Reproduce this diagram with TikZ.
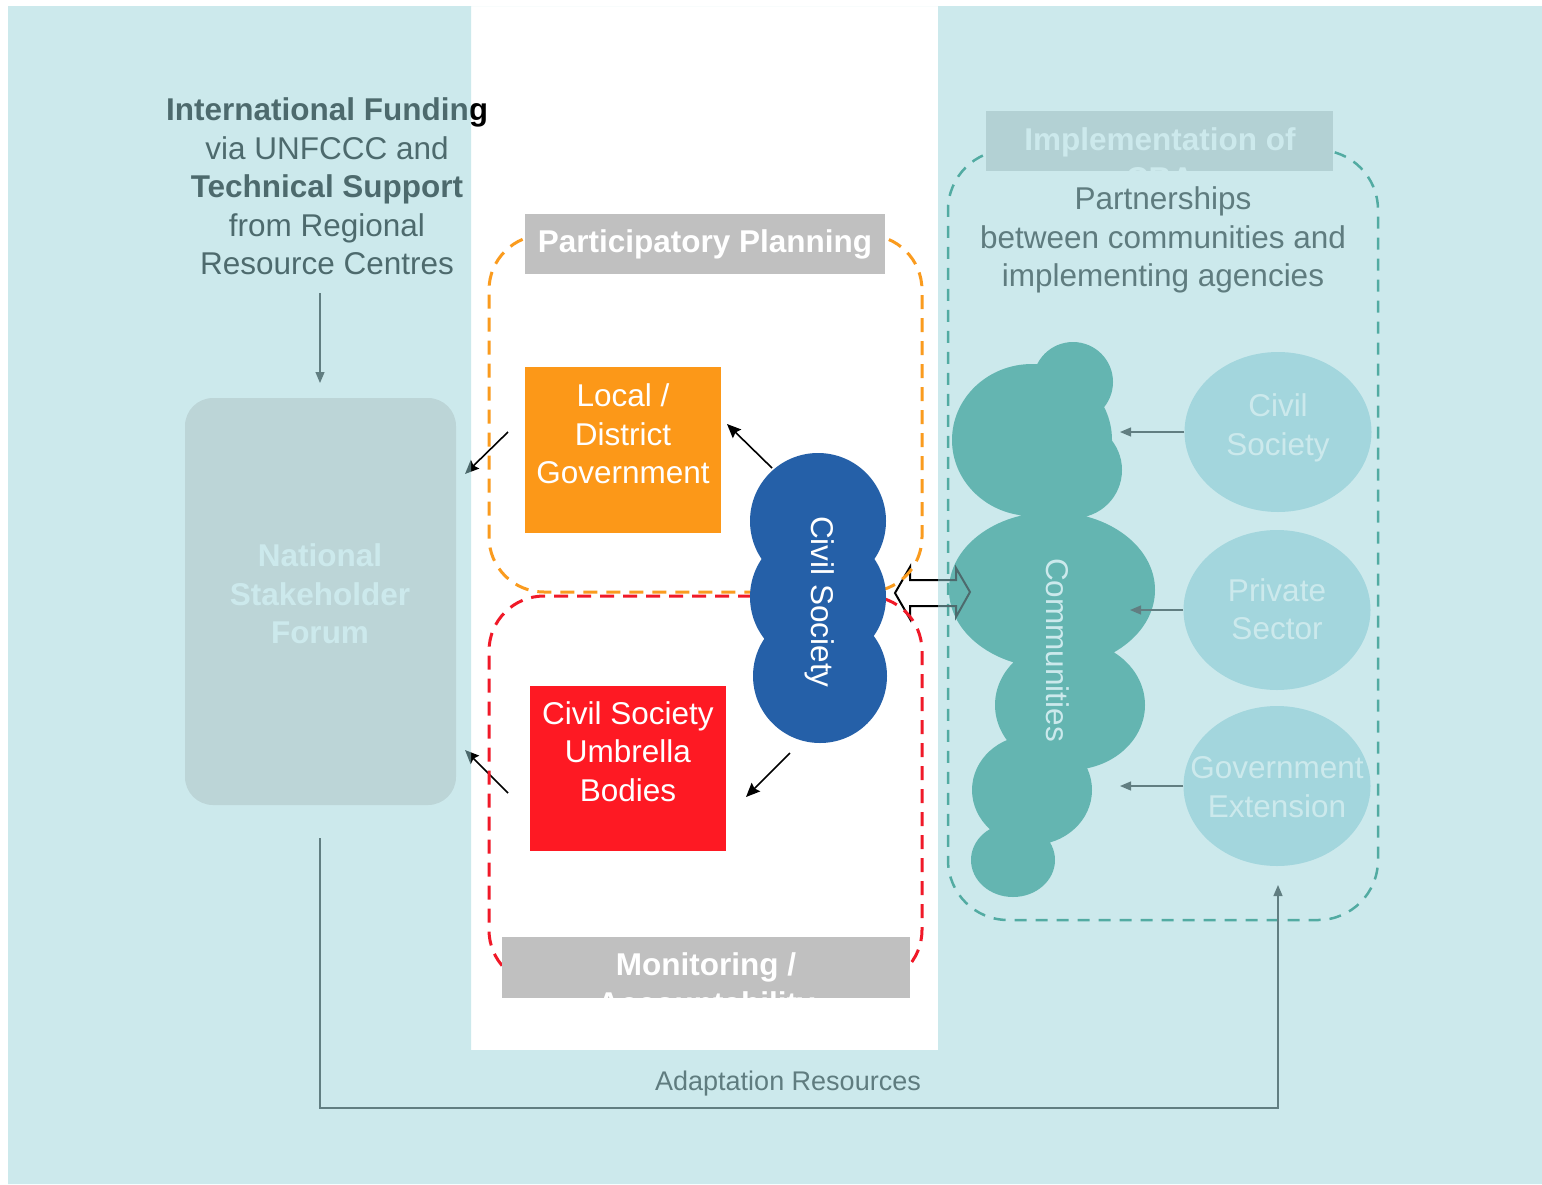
\documentclass[tikz,border=0pt]{standalone}
\usepackage{fontspec}
\setmainfont{Liberation Sans}
\usetikzlibrary{arrows.meta,shapes.geometric}
\definecolor{ovlc}{RGB}{155,213,219}
\definecolor{forumc}{RGB}{222,214,212}
\definecolor{ellc}{RGB}{172,216,224}
\definecolor{cloudc}{RGB}{45,150,135}
\definecolor{dashc}{RGB}{10,130,105}
\definecolor{implc}{RGB}{205,205,205}
\definecolor{pgray}{RGB}{192,192,192}
\definecolor{orangec}{RGB}{252,152,24}
\definecolor{redc}{RGB}{254,25,35}
\definecolor{bluec}{RGB}{37,96,168}
\definecolor{odashc}{RGB}{250,155,30}
\definecolor{rdashc}{RGB}{240,25,40}
\definecolor{fadec}{RGB}{40,40,40}
\definecolor{fadetxt}{RGB}{35,35,35}
\tikzset{
  big/.style={font=\fontsize{31.5}{38.5}\selectfont},
  bigb/.style={font=\fontsize{31.5}{38.5}\selectfont\bfseries},
  txt/.style={big, align=center, inner sep=0pt},
  txtb/.style={bigb, align=center, inner sep=0pt},
  fadearr/.style={draw=fadec, line width=1.2pt, -{Triangle[length=11pt,width=9pt]}},
  blkarr/.style={draw=black, line width=1.6pt, -{Stealth[length=14pt,width=12pt,inset=2pt]}},
  ellnode/.style={ellipse, fill=ellc, minimum width=187pt, minimum height=160pt, inner sep=0pt},
  elltxt/.style={txt, text=white},
  graybox/.style={fill=pgray, inner sep=0pt},
  colbox/.style={inner sep=0pt, big, align=center, text=white, minimum width=196pt},
  odashbox/.style={draw=odashc, line width=3pt, dash pattern=on 14pt off 9pt, rounded corners=55pt, minimum width=433pt, inner sep=0pt},
  rdashbox/.style={draw=rdashc, line width=3pt, dash pattern=on 14pt off 9pt, rounded corners=55pt, minimum width=433pt, inner sep=0pt},
}
\begin{document}
\begin{tikzpicture}[x=1pt,y=-1pt]
\useasboundingbox (0,0) rectangle (1542,1184);
\fill[white] (0,0) rectangle (1542,1184);

% ---------- left (faded) ----------
\node[txt, text=black] (intl) at (327,186.5) {\textbf{International Funding}\\via UNFCCC and\\\textbf{Technical Support}\\from Regional\\Resource Centres};
\node[fill=forumc, rounded corners=28pt, minimum width=271pt, minimum height=407pt, inner sep=0pt] (forum) at (320.5,601.5) {};
\node[txtb, text=white] (forumtxt) at (320,594) {National\\Stakeholder\\Forum};
\coordinate (ia) at (320,293);
\coordinate (ib) at (320,383);
\draw[fadearr] (ia) -- (ib);

% ---------- right (faded) ----------
\node[draw=dashc, line width=2.5pt, dash pattern=on 12pt off 9pt, rounded corners=60pt, minimum width=430pt, minimum height=770pt, inner sep=0pt] (partbox) at (1163,535) {};
\node[fill=implc, minimum width=347pt, minimum height=60pt, inner sep=0pt] (impl) at (1159.5,141) {};
\begin{scope}
  \clip (impl.north west) rectangle (impl.south east);
  \node[txtb, text=white] (impltxt) at (1160,158.5) {Implementation of\\CBA};
\end{scope}
\node[txt, text=fadetxt] (partner) at (1163,240) {Partnerships\\between communities and\\implementing agencies};

% communities cloud
\fill[cloudc]
  (1073,382) circle (40pt)
  (1032,440) ellipse [x radius=80pt, y radius=76pt]
  (1074,470) circle (48pt)
  (1052,590) ellipse [x radius=103pt, y radius=78pt]
  (1070,705) ellipse [x radius=75pt, y radius=65pt]
  (1032,790) ellipse [x radius=60pt, y radius=55pt]
  (1013,860) ellipse [x radius=42pt, y radius=37pt];
\node[txt, text=white, rotate=-90] (comm) at (1058,650) {Communities};

\node[ellnode] (ecs) at (1278,432) {};
\node[elltxt] (ecstxt) at (1278,428) {Civil\\Society};
\node[ellnode] (eps) at (1277,610) {};
\node[elltxt] (epstxt) at (1277,609) {Private\\Sector};
\node[ellnode] (ege) at (1277,786) {};
\node[elltxt] (egetxt) at (1277,787) {Government\\Extension};
\coordinate (c1) at (1120,432);
\coordinate (c2) at (1130,610);
\coordinate (c3) at (1120,786);
\draw[fadearr] (ecs.west) -- (c1);
\draw[fadearr] (eps.west) -- (c2);
\draw[fadearr] (ege.west) -- (c3);

% adaptation resources loop
\coordinate (ar0) at (320,838);
\coordinate (ar1) at (320,1108);
\coordinate (ar2) at (1278,1108);
\coordinate (ar3) at (1278,885);
\draw[fadearr] (ar0) -- (ar1) -- (ar2) -- (ar3);
\node[inner sep=0pt, text=fadetxt, font=\fontsize{27}{32}\selectfont] (adapt) at (788,1084) {Adaptation Resources};

% hollow double arrow between civil society and communities
\draw[black, line width=2pt, line join=miter]
  (895,593) -- (910,567) -- (910,580) -- (956,580) -- (956,568) -- (970,592)
  -- (956,617) -- (956,606) -- (910,606) -- (910,619) -- cycle;

% arrows from central boxes toward forum
\coordinate (b1s) at (508,432);
\coordinate (b1e) at (465,474);
\coordinate (b2s) at (508,793);
\coordinate (b2e) at (465,750);
\draw[blkarr] (b1s) -- (b1e);
\draw[blkarr] (b2s) -- (b2e);

% ---------- overlay ----------
\fill[ovlc, fill opacity=0.5, even odd rule] (8,6) rectangle (1542,1184) (471,6) rectangle (938,1050);

% ---------- central ----------
\node[odashbox, minimum height=357pt] (opbox) at (705.5,413.5) {};
\node[rdashbox, minimum height=389pt] (rdbox) at (705.5,790.5) {};

\node[graybox, minimum width=360pt, minimum height=60pt, bigb, text=white] (pplan) at (705,244) {Participatory Planning};

\node[graybox, minimum width=408pt, minimum height=61pt] (monit) at (706,967.5) {};
\begin{scope}
  \clip (monit.north west) rectangle (monit.south east);
  \node[txtb, text=white] (monittxt) at (706,987) {Monitoring /\\Accountability};
\end{scope}

\node[colbox, fill=orangec, minimum height=166pt] (lgov) at (623,450) {Local /\\District\\Government\\[-6pt]\mbox{}};
\node[colbox, fill=redc, minimum height=165pt] (csub) at (628,768.5) {Civil Society\\Umbrella\\Bodies\\[-4pt]\mbox{}};

\fill[bluec] (818,521) circle (68pt) (818,597) circle (68pt) (820,676) circle (67pt);
\node[txt, text=white, rotate=-90] (cs) at (820,602) {Civil Society};

\coordinate (g1s) at (772,468);
\coordinate (g1e) at (727,424);
\coordinate (g2s) at (790,753);
\coordinate (g2e) at (746,797);
\draw[blkarr] (g1s) -- (g1e);
\draw[blkarr] (g2s) -- (g2e);
\end{tikzpicture}
\end{document}
